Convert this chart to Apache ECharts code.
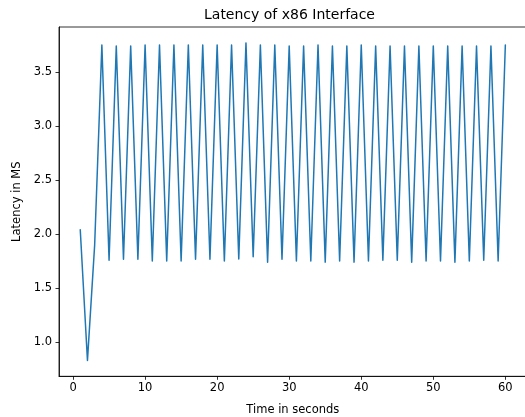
<!DOCTYPE html>
<html>
<head>
<meta charset="utf-8">
<script src="https://cdn.jsdelivr.net/npm/echarts@6/dist/echarts.min.js"></script>
<style>
  html, body { margin: 0; padding: 0; background: #fff; }
  #chart { width: 525px; height: 417px; }
</style>
</head>
<body>
<div id="chart"></div>
<script>
// seconds 1..60
const segundos = [
  1, 2, 3, 4, 5, 6, 7, 8, 9, 10,
  11, 12, 13, 14, 15, 16, 17, 18, 19, 20,
  21, 22, 23, 24, 25, 26, 27, 28, 29, 30,
  31, 32, 33, 34, 35, 36, 37, 38, 39, 40,
  41, 42, 43, 44, 45, 46, 47, 48, 49, 50,
  51, 52, 53, 54, 55, 56, 57, 58, 59, 60
];
// latency in ms
const latencia = [
  2.04, 0.83, 1.90, 3.75, 1.757, 3.74, 1.766, 3.74, 1.766, 3.75,
  1.75, 3.75, 1.75, 3.75, 1.75, 3.75, 1.766, 3.75, 1.766, 3.75,
  1.75, 3.75, 1.77, 3.77, 1.79, 3.75, 1.74, 3.75, 1.766, 3.74,
  1.75, 3.74, 1.75, 3.75, 1.74, 3.74, 1.75, 3.74, 1.74, 3.75,
  1.75, 3.74, 1.757, 3.74, 1.757, 3.74, 1.74, 3.74, 1.75, 3.74,
  1.75, 3.74, 1.74, 3.74, 1.75, 3.74, 1.757, 3.74, 1.75, 3.75
];
const ticksX = [0, 10, 20, 30, 40, 50, 60];
const ticksY = [1.0, 1.5, 2.0, 2.5, 3.0, 3.5];

const fuente = "DejaVu Sans";
const negro = "#000";

var dom = document.getElementById("chart");
var myChart = echarts.init(dom, null, { renderer: "canvas" });

var option = {
  animation: false,
  title: {
    text: "Latency of x86 Interface",
    left: 199,
    top: 3,
    textStyle: { fontFamily: fuente, fontSize: 14, fontWeight: "normal", color: negro },
  },
  grid: {
    left: 59,
    top: 27,
    width: 467.6,
    height: 349.3,
    outerBoundsMode: "none",
    show: true,
    borderColor: negro,
    borderWidth: 0.8,
  },
  xAxis: {
    type: "value",
    min: -1.95,
    max: 62.95,
    name: "Time in seconds",
    nameLocation: "middle",
    nameGap: 28,
    nameTextStyle: { fontFamily: fuente, fontSize: 11.5, color: negro },
    axisLine: { show: true, onZero: false, lineStyle: { color: negro, width: 0.8 } },
    axisTick: { show: true, length: 3.5, lineStyle: { color: negro, width: 0.8 }, customValues: ticksX },
    axisLabel: {
      customValues: ticksX,
      margin: 6,
      fontFamily: fuente,
      fontSize: 11.5,
      color: negro,
    },
    splitLine: { show: false },
  },
  yAxis: {
    type: "value",
    min: 0.683,
    max: 3.917,
    name: "Latency in MS",
    nameLocation: "middle",
    nameGap: 36,
    nameTextStyle: { fontFamily: fuente, fontSize: 11.5, color: negro },
    axisLine: { show: true, onZero: false, lineStyle: { color: negro, width: 0.8 } },
    axisTick: { show: true, length: 3.5, lineStyle: { color: negro, width: 0.8 }, customValues: ticksY },
    axisLabel: {
      customValues: ticksY,
      margin: 7,
      fontFamily: fuente,
      fontSize: 11.5,
      color: negro,
      formatter: function (v) { return v.toFixed(1); },
    },
    splitLine: { show: false },
  },
  series: [
    {
      type: "line",
      data: segundos.map((s, i) => [s, latencia[i]]),
      showSymbol: false,
      symbol: "none",
      lineStyle: { color: "#1f77b4", width: 1.5, cap: "round", join: "round" },
    },
  ],
};

myChart.setOption(option);
</script>
</body>
</html>
